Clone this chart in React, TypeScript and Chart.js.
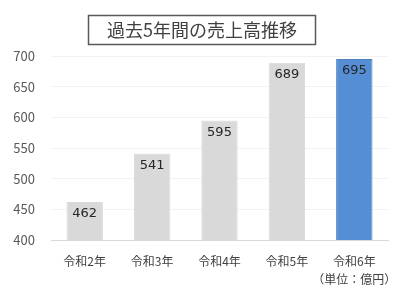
import React, { useEffect, useRef } from "react";
import { Chart, registerables } from "chart.js";

Chart.register(...registerables);

const categories: (string | string[])[] = ["令和2年", "令和3年", "令和4年", "令和5年", ["令和6年", "（単位：億円）"]];
const sales = [462, 541, 595, 689, 695];
const barColors = ["#d9d9d9", "#d9d9d9", "#d9d9d9", "#d9d9d9", "#558ed5"];
const borderColors = ["#d9d9d9", "#d9d9d9", "#d9d9d9", "#d9d9d9", "#4f81bd"];
const titleText = "過去5年間の売上高推移";
const yMin = 400;
const yMax = 700;
const yStep = 50;

const FONT = "'Noto Sans CJK JP', 'Noto Sans', sans-serif";

const titleBoxPlugin = {
  id: "titleBox",
  afterDraw(chart: any) {
    const ctx = chart.ctx;
    ctx.save();
    ctx.strokeStyle = "#595959";
    ctx.lineWidth = 1.5;
    ctx.strokeRect(88.5, 15.5, 227, 29);
    ctx.fillStyle = "#404040";
    ctx.font = `18px ${FONT}`;
    ctx.textAlign = "center";
    ctx.textBaseline = "middle";
    ctx.fillText(titleText, 202, 30);
    ctx.restore();
  },
};

const valueLabelPlugin = {
  id: "valueLabels",
  afterDatasetsDraw(chart: any) {
    const ctx = chart.ctx;
    const meta = chart.getDatasetMeta(0);
    ctx.save();
    ctx.fillStyle = "#262626";
    ctx.font = `13px 'DejaVu Sans', sans-serif`;
    ctx.textAlign = "center";
    ctx.textBaseline = "middle";
    meta.data.forEach((bar: any, i: number) => {
      const v = chart.data.datasets[0].data[i];
      ctx.fillText(String(v), bar.x, bar.y + 12);
    });
    ctx.restore();
  },
};

export default function App() {
  const ref = useRef<HTMLCanvasElement>(null);
  useEffect(() => {
    document.body.style.margin = "0";
    const chart = new Chart(ref.current!, {
      type: "bar",
      data: {
        labels: categories,
        datasets: [
          {
            data: sales,
            backgroundColor: barColors,
            borderColor: borderColors,
            borderWidth: 1,
            categoryPercentage: 1,
            barPercentage: 0.54,
          },
        ],
      },
      options: {
        animation: false,
        responsive: false,
        maintainAspectRatio: false,
        layout: { padding: { top: 56, right: 12, bottom: 0, left: 0 } },
        plugins: { legend: { display: false }, tooltip: { enabled: false }, title: { display: false } },
        scales: {
          y: {
            min: yMin,
            max: yMax,
            ticks: {
              stepSize: yStep,
              color: "#595959",
              font: { family: FONT, size: 13 },
              padding: 16,
            },
            grid: { color: "#f2f2f2", drawTicks: false },
            border: { display: false },
            afterFit(scale: any) {
              scale.width = 51;
            },
          },
          x: {
            ticks: {
              color: "#404040",
              font: { family: FONT, size: 12, lineHeight: 1.45 },
              padding: 13,
              maxRotation: 0,
              minRotation: 0,
              autoSkip: false,
            },
            grid: { display: false, drawTicks: false },
            border: { display: true, color: "#d9d9d9", width: 1 },
            afterFit(scale: any) {
              scale.height = 60;
              scale.paddingLeft = 0;
              scale.paddingRight = 0;
            },
          },
        },
      },
      plugins: [titleBoxPlugin, valueLabelPlugin],
    });
    return () => chart.destroy();
  }, []);
  return <canvas ref={ref} width={400} height={300} style={{ display: "block" }} />;
}
